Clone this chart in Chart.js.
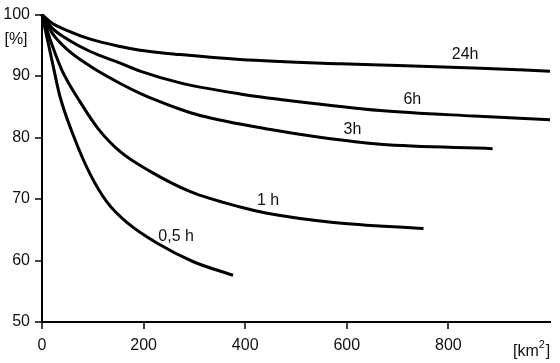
<!DOCTYPE html>
<html>
<head>
<meta charset="utf-8">
<script src="https://cdn.jsdelivr.net/npm/chart.js@4"></script>
<style>
  body { margin: 0; background: #fff; }
  #wrap { width: 560px; height: 363px; }
</style>
</head>
<body>
<div id="wrap"><canvas id="chart" width="560" height="363"></canvas></div>
<script>
// area [km2] and share [%]
const area24h = [0, 20, 50, 95, 154, 193, 272, 390, 587, 666, 850, 1000];
const pct24h  = [100, 98.6, 97.4, 96.0, 94.8, 94.2, 93.5, 92.7, 92.0, 91.8, 91.3, 90.8];

const area6h = [0, 20, 50, 95, 154, 193, 272, 390, 489, 666, 850, 1000];
const pct6h  = [100, 97.8, 96.0, 94.0, 92.1, 90.8, 88.9, 87.1, 86.0, 84.4, 83.5, 82.9];

const area3h = [0, 20, 50, 95, 154, 193, 227, 272, 311, 450, 550, 666, 887];
const pct3h  = [100, 97.0, 94.3, 91.6, 88.8, 87.2, 86.0, 84.6, 83.6, 81.3, 80.0, 78.9, 78.2];

const area1h = [0, 20, 40, 75, 110, 154, 213, 292, 390, 443, 574, 751];
const pct1h  = [100, 95, 90.8, 85.8, 81.5, 77.7, 74.5, 71.2, 68.7, 67.7, 66.2, 65.2];

const area05h = [0, 10, 20, 35, 61, 95, 128, 167, 227, 298, 376];
const pct05h  = [100, 96.2, 92.4, 86.8, 80.5, 74, 69.5, 66.2, 62.8, 59.8, 57.6];

const curveNames = ['24h', '6h', '3h', '1 h', '0,5 h'];
const labelX = [833, 729, 611, 445, 264];
const labelY = [93.5, 86.1, 81.3, 69.7, 63.9];

const xTicks = [0, 200, 400, 600, 800];
const yTicks = [50, 60, 70, 80, 90, 100];

const FONT = 'Liberation Sans, Arial, sans-serif';

function toPoints(xs, ys) {
    return xs.map((x, i) => ({ x: x, y: ys[i] }));
}

const series = [
    toPoints(area24h, pct24h),
    toPoints(area6h, pct6h),
    toPoints(area3h, pct3h),
    toPoints(area1h, pct1h),
    toPoints(area05h, pct05h)
];

// curve labels and axis units
const textPlugin = {
    id: 'texts',
    afterDatasetsDraw(chart) {
        const ctx = chart.ctx;
        const xs = chart.scales.x, ys = chart.scales.y;
        ctx.save();
        ctx.fillStyle = '#111';
        ctx.textAlign = 'center';
        ctx.textBaseline = 'middle';
        ctx.font = '16px ' + FONT;
        curveNames.forEach((name, i) => {
            ctx.fillText(name, xs.getPixelForValue(labelX[i]), ys.getPixelForValue(labelY[i]));
        });
        ctx.fillText('[%]', 16, 40);
        ctx.textAlign = 'left';
        ctx.fillText('[km', 513, 352);
        const w = ctx.measureText('[km').width;
        ctx.font = '11px ' + FONT;
        ctx.fillText('2', 513 + w, 345);
        ctx.font = '16px ' + FONT;
        ctx.fillText(']', 513 + w + 7, 352);
        ctx.restore();
    }
};

new Chart(document.getElementById('chart').getContext('2d'), {
    type: 'scatter',
    data: {
        datasets: series.map((pts, i) => ({
            label: curveNames[i],
            data: pts,
            showLine: true,
            borderColor: '#000',
            borderWidth: 3,
            pointRadius: 0,
            cubicInterpolationMode: 'monotone',
            clip: false
        }))
    },
    options: {
        responsive: false,
        animation: false,
        layout: { padding: { top: 12, right: 10, left: 0, bottom: 0 } },
        plugins: { legend: { display: false }, tooltip: { enabled: false } },
        scales: {
            x: {
                type: 'linear',
                min: 0,
                max: 1000,
                afterBuildTicks: s => { s.ticks = xTicks.map(v => ({ value: v })); },
                afterFit: s => { s.height = 41; },
                border: { color: '#000', width: 2 },
                grid: { drawOnChartArea: false, drawTicks: true, tickLength: 7, color: '#444', lineWidth: 2 },
                ticks: { color: '#111', padding: 7, font: { family: FONT, size: 16 } }
            },
            y: {
                min: 50,
                max: 100,
                afterBuildTicks: s => { s.ticks = yTicks.map(v => ({ value: v })); },
                afterFit: s => { s.width = 42; },
                border: { color: '#000', width: 2 },
                grid: { drawOnChartArea: false, drawTicks: true, tickLength: 7, color: '#444', lineWidth: 2 },
                ticks: { color: '#111', padding: 5, font: { family: FONT, size: 16 } }
            }
        }
    },
    plugins: [textPlugin]
});
</script>
</body>
</html>
